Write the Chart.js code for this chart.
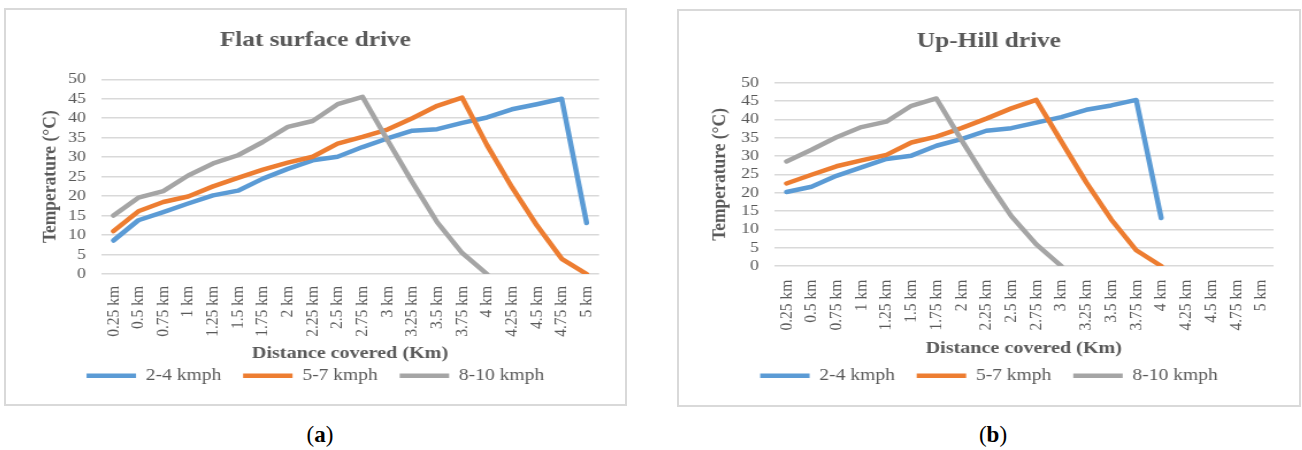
<!DOCTYPE html>
<html>
<head>
<meta charset="utf-8">
<script src="https://cdn.jsdelivr.net/npm/chart.js@4.4.1/dist/chart.umd.min.js"></script>
<style>
  body { margin: 0; background: #fff; width: 1302px; height: 450px; position: relative; overflow: hidden; }
  .box { position: absolute; border: 2px solid #d9d9d9; background: #fff; overflow: visible; }
  .box canvas { transform: scaleX(1.15); transform-origin: 0 0; }
  .cap { position: absolute; top: 420px; width: 60px; text-align: center; font-family: 'Liberation Serif', serif; font-size: 23px; line-height: 30px; color: #000; }
</style>
</head>
<body>
<div class="box" style="left:4px; top:8px; width:619px; height:394px;">
  <canvas id="flatChart" width="538" height="394"></canvas>
</div>
<div class="box" style="left:677px; top:9px; width:620px; height:394px;">
  <canvas id="hillChart" width="539" height="394"></canvas>
</div>
<div class="cap" style="left:290px;">(<b>a</b>)</div>
<div class="cap" style="left:963px;">(<b>b</b>)</div>

<script>
// 距離のラベル
var distances = ["0.25 km", "0.5 km", "0.75 km", "1 km", "1.25 km", "1.5 km", "1.75 km", "2 km", "2.25 km", "2.5 km",
                 "2.75 km", "3 km", "3.25 km", "3.5 km", "3.75 km", "4 km", "4.25 km", "4.5 km", "4.75 km", "5 km"];
var speedNames = ["2-4 kmph", "5-7 kmph", "8-10 kmph"];
var yTicks = [0, 5, 10, 15, 20, 25, 30, 35, 40, 45, 50];

// Flat surface drive
var flat24 = [8.6, 13.8, 15.9, 18.1, 20.2, 21.4, 24.5, 27.0, 29.2, 30.1, 32.6, 34.8, 36.8, 37.2, 38.8, 40.2, 42.3, 43.6, 45.0, 13.1];
var flat57 = [11.0, 16.1, 18.5, 19.9, 22.5, 24.7, 26.8, 28.6, 30.1, 33.5, 35.2, 37.1, 40.0, 43.2, 45.3, 33.1, 22.3, 12.5, 3.9, 0];
var flat810 = [15.0, 19.6, 21.3, 25.3, 28.4, 30.5, 33.9, 37.8, 39.3, 43.6, 45.5, 34.4, 23.6, 13.3, 5.4, 0, null, null, null, null];

// Up-Hill drive
var hill24 = [20.2, 21.6, 24.6, 26.9, 29.2, 30.1, 32.8, 34.6, 36.9, 37.6, 39.1, 40.6, 42.6, 43.8, 45.3, 13.1, null, null, null, null];
var hill57 = [22.5, 24.9, 27.2, 28.8, 30.3, 33.7, 35.3, 37.6, 40.2, 43.0, 45.3, 34.0, 22.8, 12.7, 4.3, 0, null, null, null, null];
var hill810 = [28.5, 31.7, 35.1, 37.9, 39.4, 43.7, 45.7, 34.4, 23.6, 13.6, 5.9, 0, null, null, null, null, null, null, null, null];

var lineColors = ["#5b9bd5", "#ed7d31", "#a5a5a5"];

function makeChart(id, title, series, lay) {
  var datasets = series.map(function(values, i) {
    return {
      label: speedNames[i],
      data: values,
      borderColor: lineColors[i],
      backgroundColor: lineColors[i],
      borderWidth: 4.5,
      borderCapStyle: "round",
      borderJoinStyle: "round",
      pointRadius: 0,
      tension: 0,
      order: 3 - i
    };
  });

  var ctx = document.getElementById(id).getContext("2d");
  return new Chart(ctx, {
    type: "line",
    data: { labels: distances, datasets: datasets },
    options: {
      responsive: false,
      animation: false,
      layout: { padding: { left: 0, right: 0, top: 0, bottom: lay.padBottom } },
      plugins: {
        title: {
          display: true,
          text: title,
          color: "#595959",
          font: { size: 22, weight: "bold" },
          padding: { top: lay.titleTop, bottom: lay.titleBottom }
        },
        legend: {
          position: "bottom",
          labels: {
            usePointStyle: true,
            pointStyle: "line",
            pointStyleWidth: 43,
            padding: 19,
            color: "#595959",
            font: { size: 17 },
            sort: function(a, b) { return a.datasetIndex - b.datasetIndex; }
          }
        },
        tooltip: { enabled: false }
      },
      scales: {
        x: {
          offset: true,
          grid: { display: false, drawTicks: false },
          border: { display: false },
          ticks: {
            autoSkip: false, minRotation: 90, maxRotation: 90,
            padding: lay.xTickPad, color: "#595959", font: { size: 15.5 }
          },
          title: {
            display: true, text: "Distance covered (Km)", color: "#595959",
            font: { size: 17.5, weight: "bold" },
            padding: { top: 0, bottom: lay.xTitleBottom }
          },
          afterFit: function(scale) { scale.height = lay.xHeight; }
        },
        y: {
          position: "left",
          min: 0, max: 50,
          afterBuildTicks: function(scale) {
            scale.ticks = yTicks.map(function(v) { return { value: v }; });
          },
          grid: { color: "#d9d9d9", lineWidth: 1.5, drawTicks: false },
          border: { display: false },
          ticks: { autoSkip: false, padding: 13, color: "#595959", font: { size: 15.5 } },
          title: {
            display: true, text: "Temperature (°C)", color: "#595959",
            font: { size: 17.5, weight: "bold" },
            padding: { top: lay.yTitleTop, bottom: 0 }
          },
          afterFit: function(scale) { scale.width = lay.yWidth; }
        },
        // 右側の余白用
        yPad: {
          type: "linear", axis: "y", position: "right",
          grid: { display: false, drawTicks: false },
          border: { display: false },
          ticks: { display: false },
          afterFit: function(scale) { scale.width = lay.padRight; }
        }
      }
    }
  });
}

window.onload = function() {
  Chart.defaults.font.family = "'Liberation Serif', 'Times New Roman', serif";
  Chart.defaults.color = "#595959";

  // 平地走行
  makeChart("flatChart", "Flat surface drive", [flat24, flat57, flat810], {
    titleTop: 17.3, titleBottom: 25.6, padBottom: 9.8, padRight: 22.3,
    xHeight: 74.2, xTickPad: 12, xTitleBottom: -15.3,
    yWidth: 82.6, yTitleTop: 27.8
  });

  // 登坂走行
  makeChart("hillChart", "Up-Hill drive", [hill24, hill57, hill810], {
    titleTop: 17.6, titleBottom: 27.7, padBottom: 10.8, padRight: 21.3,
    xHeight: 82.2, xTickPad: 13.7, xTitleBottom: -10.3,
    yWidth: 82.6, yTitleTop: 25.2
  });
};
</script>
</body>
</html>
